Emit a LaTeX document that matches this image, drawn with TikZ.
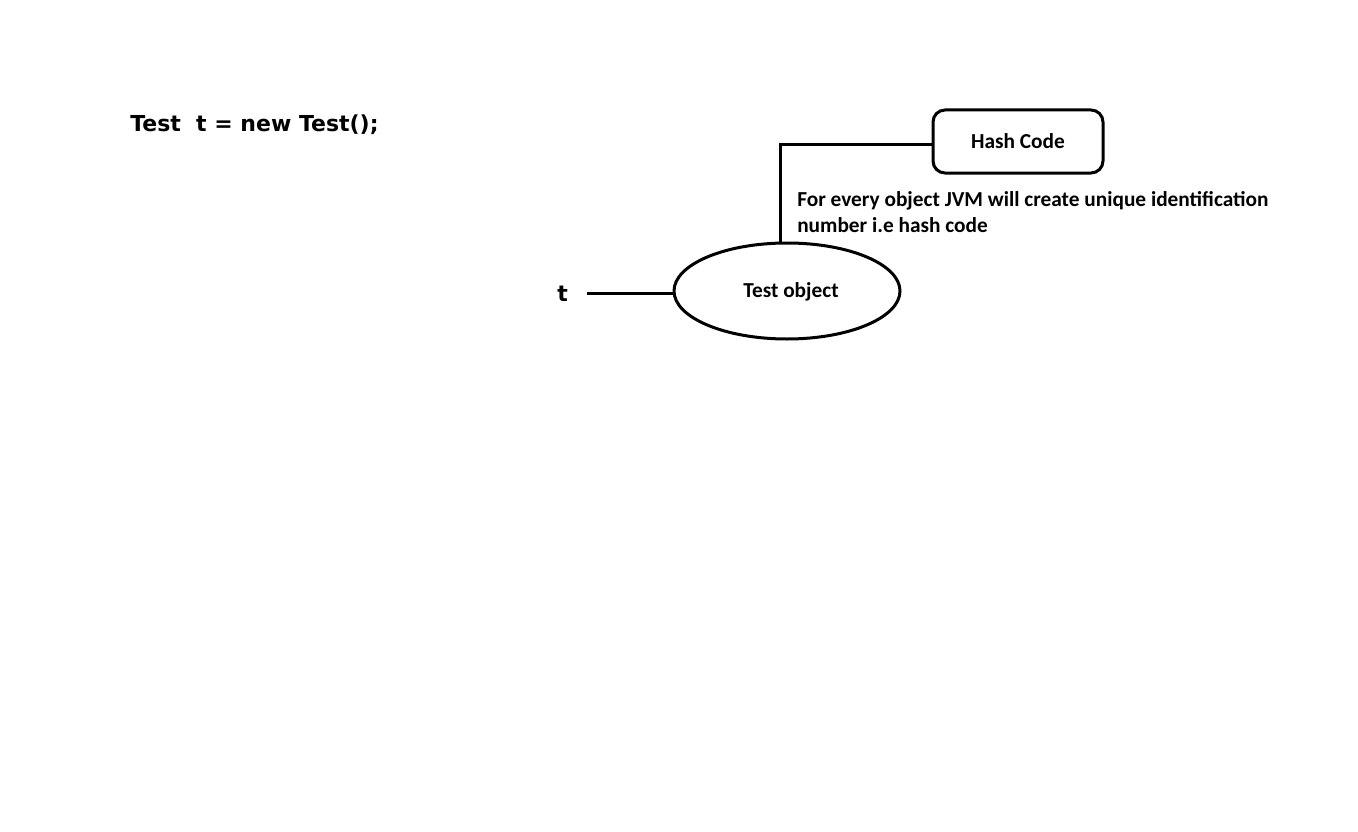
\documentclass[tikz,border=0pt]{standalone}
\usepackage{fontspec}
\setmainfont{Carlito}
\newfontfamily\codefont{DejaVu Sans}
\usetikzlibrary{shapes.geometric}
\tikzset{
  wire/.style={line width=2.25pt},
  lbl/.style={font=\bfseries\fontsize{16}{19}\selectfont, inner sep=0pt},
  codelbl/.style={font=\codefont\bfseries\fontsize{16.5}{20}\selectfont, inner sep=0pt},
}
\begin{document}
\begin{tikzpicture}[x=0.75pt,y=-0.75pt]
\useasboundingbox[fill=white] (0,0) rectangle (1358,831);
\node[codelbl, anchor=base west] (code) at (130,132) {Test\ \ t = new Test();};
\node[codelbl, anchor=base west] (tvar) at (557,301) {t};
\node[draw, wire, ellipse, minimum width=226*0.75pt, minimum height=96*0.75pt, inner sep=0pt] (obj) at (787,291) {};
\node[lbl] (objtxt) at (791,292) {Test object};
\node[draw, wire, rounded corners=12*0.75pt, minimum width=170*0.75pt, minimum height=63*0.75pt, inner sep=0pt] (hash) at (1018,141.5) {};
\node[lbl] (hashtxt) at (1018,141.5) {Hash Code};
\coordinate (tend) at (587,293);
\coordinate (corner) at (780,145);
\draw[wire] (tend) -- (obj.west |- tend);
\draw[wire] (obj.north -| corner) -- (corner) -- (corner -| hash.west);
\node[lbl, anchor=base west] (ann1) at (797,206) {For every object JVM will create unique identification};
\node[lbl, anchor=base west] (ann2) at (797,232) {number i.e hash code};
\end{tikzpicture}
\end{document}
